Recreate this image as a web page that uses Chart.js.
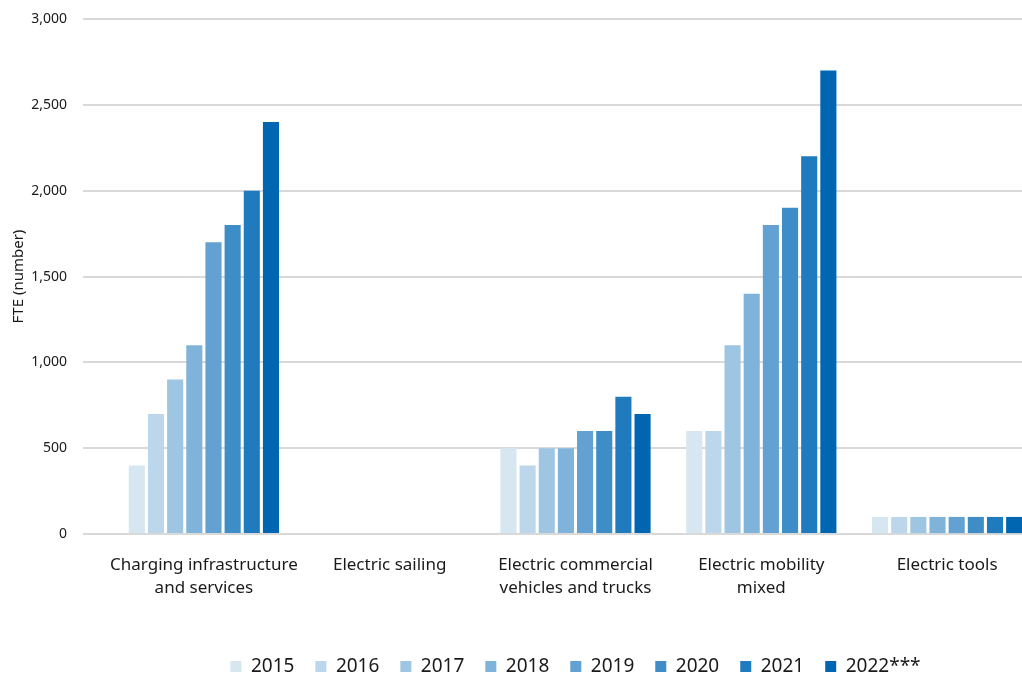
<!DOCTYPE html>
<html lang="en">
<head>
  <meta charset="UTF-8" />
  <title>FTE by segment</title>
  <script src="https://cdn.jsdelivr.net/npm/chart.js"></script>
  <style>
    html, body {
      margin: 0;
      padding: 0;
      background: #ffffff;
      overflow: hidden;
    }
    #wrap {
      position: absolute;
      left: 0;
      top: 0;
      width: 1040px;
      height: 675px;
    }
  </style>
</head>
<body>
  <div id="wrap"><canvas id="fteChart"></canvas></div>

  <script>
    const categories = [
      ['Charging infrastructure', 'and services'],
      'Electric sailing',
      ['Electric commercial', 'vehicles and trucks'],
      ['Electric mobility', 'mixed'],
      'Electric tools'
    ];
    const years = ['2015', '2016', '2017', '2018', '2019', '2020', '2021', '2022***'];
    const yearColors = ['#d6e7f2', '#bcd7eb', '#9ec5e1', '#80b3d9', '#62a1d1', '#3f8dc6', '#1f7bbe', '#0066b1'];

    // FTE per year, one entry per category
    const fte2015 = [400, 0, 500, 600, 100];
    const fte2016 = [700, 0, 400, 600, 100];
    const fte2017 = [900, 0, 500, 1100, 100];
    const fte2018 = [1100, 0, 500, 1400, 100];
    const fte2019 = [1700, 0, 600, 1800, 100];
    const fte2020 = [1800, 0, 600, 1900, 100];
    const fte2021 = [2000, 0, 800, 2200, 100];
    const fte2022 = [2400, 0, 700, 2700, 100];
    const series = [fte2015, fte2016, fte2017, fte2018, fte2019, fte2020, fte2021, fte2022];

    const yTicks = [0, 500, 1000, 1500, 2000, 2500, 3000];

    const font = '"Noto Sans", "Open Sans", sans-serif';

    new Chart(document.getElementById('fteChart'), {
      type: 'bar',
      data: {
        labels: categories,
        datasets: series.map((vals, i) => ({
          label: years[i],
          data: vals,
          backgroundColor: yearColors[i],
          borderWidth: 0,
          categoryPercentage: 0.825,
          barPercentage: 0.84
        }))
      },
      options: {
        responsive: true,
        maintainAspectRatio: false,
        animation: false,
        layout: { padding: { top: 19, left: 0, right: 0, bottom: -11 } },
        scales: {
          x: {
            grid: { display: false },
            border: { display: false },
            ticks: {
              color: '#1a1a1a',
              font: { family: font, size: 17, lineHeight: 1.35 },
              padding: 12,
              maxRotation: 0,
              autoSkip: false
            },
            afterFit(axis) {
              axis.height += 24;
              axis.paddingLeft = 0;
              axis.paddingRight = 0;
            }
          },
          y: {
            min: 0,
            max: 3000,
            afterBuildTicks(axis) {
              axis.ticks = yTicks.map(v => ({ value: v }));
            },
            afterFit(axis) {
              axis.width = 111;
              axis.paddingTop = 0;
              axis.paddingBottom = 0;
            },
            grid: {
              color: '#d9d9d9',
              lineWidth: 2,
              tickLength: 28
            },
            border: { display: false },
            ticks: {
              color: '#1a1a1a',
              font: { family: font, size: 14 },
              padding: 16,
              callback: v => v.toLocaleString('en-US')
            },
            title: {
              display: true,
              text: 'FTE (number)',
              color: '#1a1a1a',
              font: { family: font, size: 15 },
              padding: { top: 10, bottom: 5 }
            }
          }
        },
        plugins: {
          legend: {
            position: 'bottom',
            fullSize: false,
            labels: {
              color: '#1a1a1a',
              font: { family: font, size: 19 },
              boxWidth: 11,
              boxHeight: 11,
              padding: 21
            }
          },
          tooltip: { enabled: false }
        }
      }
    });
  </script>
</body>
</html>
